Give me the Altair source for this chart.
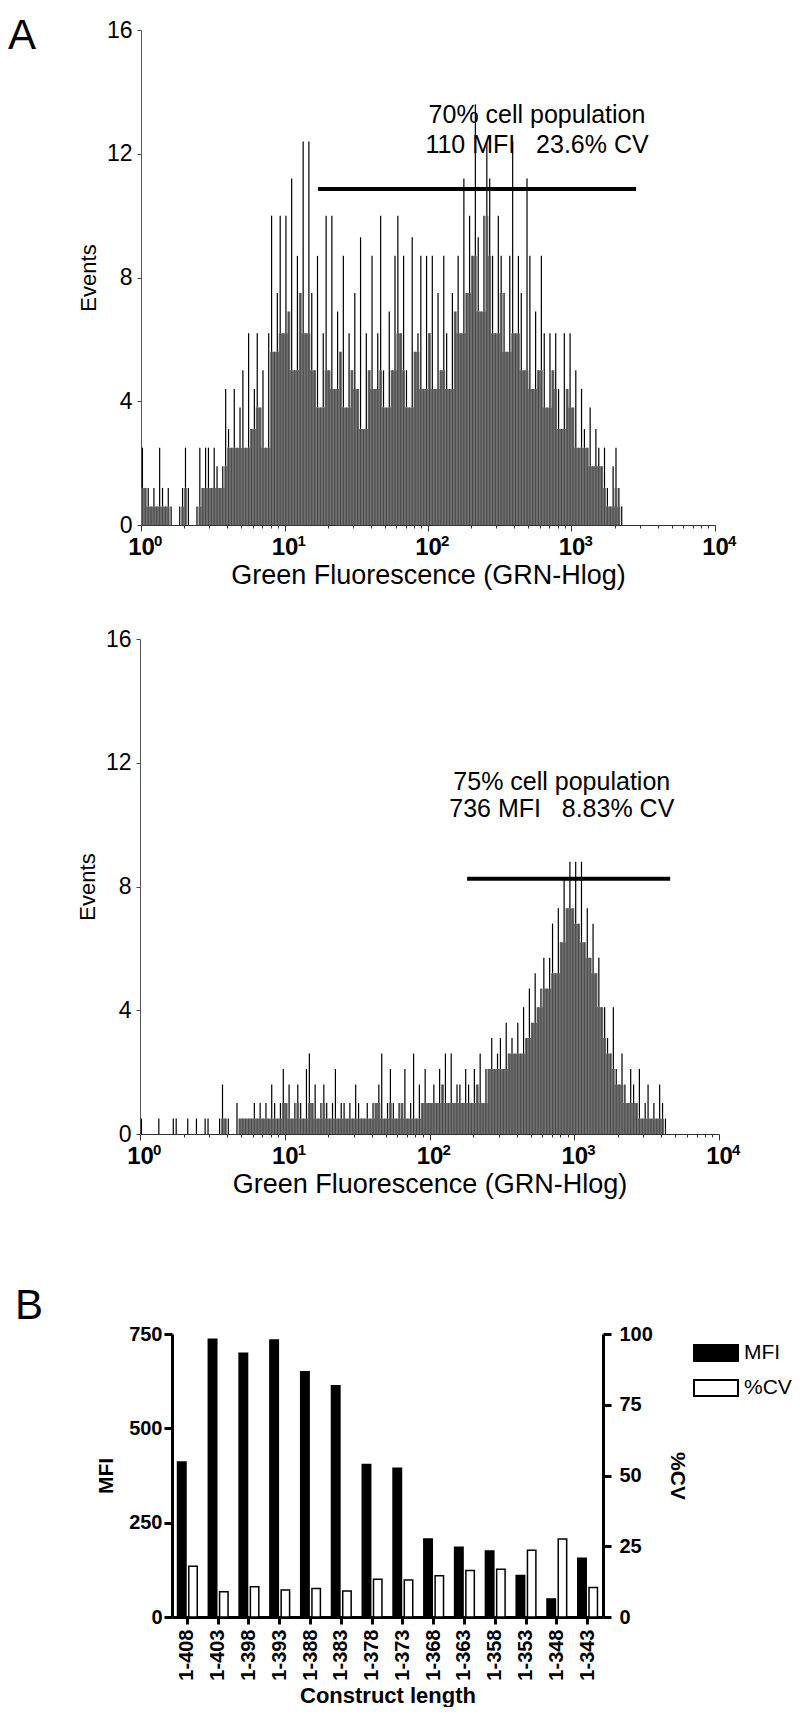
import altair as alt
import pandas as pd

FONT = "Liberation Sans"

# ---------------- data ----------------
# Panel A (top): construct 1-353, 50 channels per decade, channel i starts at 10**(i/50)
h1_counts = [
    2.5, 1.2, 1.2, 0.6, 1.2, 0.6, 2.5, 1.2, 0.6, 1.2,
    0.6, 0, 0, 0.6, 1.2, 2.5, 1.2, 0, 0, 0.6,
    2.5, 1.2, 2.5, 2.5, 1.2, 2.5, 1.9, 1.2,
    1.9, 4.4, 3.1, 2.5, 4.4, 2.5, 3.8,
    5.0, 2.5, 6.2, 3.1, 4.4, 6.2, 3.8, 5.0, 2.5, 6.2,
    10.0, 5.6, 7.5, 10.0, 6.2,
    10.0, 6.9, 11.2, 5.0, 8.7, 7.5, 12.4, 6.2, 12.4, 7.5,
    5.0, 8.7, 3.8, 6.2, 10.0, 5.0, 10.0, 4.4, 6.9, 5.6,
    8.7, 3.8, 6.2, 5.0, 7.5, 4.4, 9.3, 3.1, 6.2, 5.0,
    8.7, 4.4, 6.2, 10.0, 5.0, 3.8, 6.9, 5.0, 8.7, 10.0,
    6.2, 8.7, 5.0, 3.8, 9.3, 5.6, 6.2, 8.7, 4.4, 8.7,
    6.2, 8.7, 4.4, 7.5, 5.0, 8.7, 6.2, 4.4, 7.5, 6.9,
    8.7, 6.2, 11.2, 7.5, 10.0, 8.7, 13.6, 9.3, 6.9, 10.0,
    12.4, 11.2, 8.7, 6.2, 10.0, 8.7, 7.5, 5.6, 8.7, 12.4,
    6.2, 8.7, 7.5, 5.0, 11.2, 8.7, 4.4, 6.9, 5.0, 8.7,
    6.2, 3.8, 6.2, 5.0, 6.2, 4.4, 3.1, 6.2, 4.4, 6.2,
    3.8, 5.0, 2.5, 4.4, 3.1, 2.5, 3.8, 1.9, 3.1, 2.5,
    1.9, 2.5, 1.2, 0.6, 1.9, 2.5, 1.2, 0.6,
    0, 0, 0, 0, 0, 0, 0, 0, 0, 0, 0, 0, 0, 0, 0, 0,
    0, 0, 0, 0, 0, 0, 0, 0, 0, 0, 0, 0, 0, 0, 0, 0,
]

# Panel A (bottom): construct 1-403
h2_counts = [
    0.5, 0, 0, 0, 0, 0, 0.5, 0, 0, 0,
    0, 0.5, 0.5, 0, 0, 0, 0.5, 0, 0, 0.5,
    0, 0, 0.5, 0.5, 0, 0, 0, 0.5, 1.6, 0.5,
    0.5, 0, 0, 1.0, 0.5, 0.5, 0.5, 0.5, 0.5, 1.0,
    0.5, 1.0, 0.5, 1.0, 0.5, 1.6, 1.0, 0.5, 1.0, 2.1,
    1.0, 1.6, 0.5, 1.0, 1.6, 1.0, 0.5, 2.1, 2.6, 1.0,
    1.6, 0.5, 1.0, 1.6, 1.0, 0.5, 1.0, 2.1, 0.5, 1.0,
    1.0, 0.5, 1.0, 0.5, 1.6, 1.0, 0.5, 0.5, 1.0, 0.5,
    1.0, 1.0, 1.6, 2.6, 0.5, 1.0, 2.1, 1.0, 0.5, 1.0,
    1.0, 2.1, 0.5, 1.0, 2.6, 0.5, 1.6, 1.0, 2.1, 1.0,
    1.0, 1.6, 1.0, 2.1, 1.6, 2.6, 1.0, 2.6, 1.0, 1.6,
    1.6, 1.0, 2.1, 1.6, 1.0, 2.1, 1.6, 2.6, 1.0, 2.1,
    2.1, 3.1, 2.1, 2.6, 3.1, 2.1, 3.6, 2.6, 3.1, 2.6,
    3.6, 2.6, 4.1, 3.1, 4.7, 3.6, 5.2, 4.1, 4.7, 5.7,
    4.7, 5.7, 6.8, 5.2, 7.3, 6.2, 8.3, 7.3, 8.8, 7.3,
    8.8, 6.8, 8.8, 6.2, 7.3, 5.7, 6.8, 5.2, 5.7, 4.1,
    4.1, 3.1, 2.6, 4.1, 2.1, 1.6, 2.6, 1.6, 1.0, 2.1,
    1.6, 1.0, 2.1, 0.5, 1.0, 1.6, 0.5, 1.0, 0.5, 1.6,
    1.0, 0.5,
    0, 0, 0, 0, 0, 0, 0, 0, 0, 0, 0, 0, 0, 0, 0, 0, 0, 0,
]
CHANNELS_PER_DECADE = 50

decade_ticks = [1, 10, 100, 1000, 10000]
decade_exponents = ["0", "1", "2", "3", "4"]
log_ticks = [1, 2, 3, 4, 5, 6, 7, 8, 9,
             10, 20, 30, 40, 50, 60, 70, 80, 90,
             100, 200, 300, 400, 500, 600, 700, 800, 900,
             1000, 2000, 3000, 4000, 5000, 6000, 7000, 8000, 9000, 10000]
event_ticks = [0, 4, 8, 12, 16]

p1_notes = ["70% cell population", "110 MFI\u00a0\u00a0\u00a023.6% CV"]
p1_note_x = [575, 575]
p1_note_y = [13.25, 12.28]
p1_gate_x = [17.1, 2820]
p1_gate_y = [10.86]

p2_notes = ["75% cell population", "736 MFI\u00a0\u00a0\u00a08.83% CV"]
p2_note_x = [820, 820]
p2_note_y = [11.38, 10.5]
p2_gate_x = [182, 4600]
p2_gate_y = [8.25]

constructs = ["1-408", "1-403", "1-398", "1-393", "1-388", "1-383", "1-378",
              "1-373", "1-368", "1-363", "1-358", "1-353", "1-348", "1-343"]
mfi_values = [411, 736, 699, 734, 650, 613, 404, 394, 207, 185, 175, 110, 48, 156]
cv_values = [17.9, 8.9, 10.7, 9.5, 10.1, 9.2, 13.3, 13.1, 14.6, 16.4, 16.9, 23.6, 27.6, 10.4]
mfi_ticks = [0, 250, 500, 750]
cv_ticks = [0, 25, 50, 75, 100]
series_names = ["MFI", "%CV"]

IS_MAJOR = ("datum.value == 1 || datum.value == 10 || datum.value == 100 || "
            "datum.value == 1000 || datum.value == 10000")


def extent_rule(x, y1, y2):
    return alt.Chart(pd.DataFrame({"d": [0]})).mark_rule(opacity=0, color="white").encode(
        x=alt.value(x), x2=alt.value(x), y=alt.value(y1), y2=alt.value(y2))


def histogram_panel(counts, x_range, height, notes, note_x, note_y, gate_x, gate_y,
                    letter, letter_pos, ext):
    n = len(counts)
    edges = [10 ** (i / CHANNELS_PER_DECADE) for i in range(n)] + [10000.0]
    centers = [10 ** ((i + 0.5) / CHANNELS_PER_DECADE) for i in range(n)] + [10000.0]
    df = pd.DataFrame({"fl": edges, "fc": centers, "ev": list(counts) + [0.0]})
    xs = alt.Scale(type="log", domain=[1, 10000], nice=False, range=x_range)
    ys = alt.Scale(domain=[0, 16], nice=False)
    x_axis = alt.Axis(
        values=log_ticks, labelExpr=f"({IS_MAJOR}) ? '10' : ''",
        labelFont=FONT, labelFontSize=24, labelFontWeight="bold", labelColor="black",
        labelPadding=4, labelFlush=False, labelOverlap=False,
        tickSize=alt.condition(IS_MAJOR, alt.value(6), alt.value(3)),
        tickColor="#333333", domainColor="#333333", grid=False,
        title="Green Fluorescence (GRN-Hlog)", titleFont=FONT, titleFontSize=27,
        titleFontWeight="normal", titleColor="black", titlePadding=3)
    y_axis = alt.Axis(
        values=event_ticks, labelFont=FONT, labelFontSize=23, labelColor="black",
        labelPadding=5, tickSize=4, tickColor="#444444", domainColor="#555555",
        grid=False, offset=-x_range[0], title="Events", titleFont=FONT, titleFontSize=22,
        titleFontWeight="normal", titleColor="black", titlePadding=6)

    base = alt.Chart(df).transform_window(
        body="min(ev)", frame=[-1, 1], sort=[alt.SortField("fl")])
    # grey body: the level every neighbouring channel reaches
    body = base.mark_area(interpolate="step-after", color="#707070").encode(
        x=alt.X("fl:Q", scale=xs, axis=x_axis),
        y=alt.Y("body:Q", scale=ys, axis=y_axis))
    # faint channel edges inside the grey body
    inner = base.mark_rule(color="#2e2e2e", strokeWidth=0.6).encode(
        x="fc:Q", y="body:Q", y2=alt.datum(0))
    # black channel tops above the body
    spikes = base.mark_rule(color="black", strokeWidth=1.2).encode(
        x="fc:Q", y="ev:Q", y2="body:Q")

    gate = alt.Chart(pd.DataFrame({"fl": [gate_x[0]], "fl2": [gate_x[1]], "ev": gate_y})).mark_rule(
        color="black", strokeWidth=4).encode(x="fl:Q", x2="fl2:Q", y="ev:Q")
    texts = alt.Chart(pd.DataFrame({"fl": note_x, "ev": note_y, "t": notes})).mark_text(
        font=FONT, fontSize=25, color="black").encode(x="fl:Q", y="ev:Q", text="t:N")
    exps = alt.Chart(pd.DataFrame({"fl": decade_ticks, "e": decade_exponents})).mark_text(
        font=FONT, fontSize=15, fontWeight="bold", color="black", align="left",
        baseline="top", dx=13).encode(x="fl:Q", y=alt.value(height + 9), text="e:N")
    layers = [body, inner, spikes, gate, texts, exps]
    if letter:
        layers.append(alt.Chart(pd.DataFrame({"t": [letter]})).mark_text(
            font=FONT, fontSize=42, color="black", align="left", baseline="alphabetic").encode(
            x=alt.value(letter_pos[0]), y=alt.value(letter_pos[1]), text="t:N"))
    layers.append(extent_rule(ext[0], ext[1], height + ext[2]))
    return alt.layer(*layers).properties(width=x_range[1], height=height)


# common column origin is x=172 on the page (panel B's plot area);
# panel A plot areas start 31-32 px further left.
p1 = histogram_panel(h1_counts, [-31, 543], 495, p1_notes, p1_note_x, p1_note_y,
                     p1_gate_x, p1_gate_y, "A", (-164, 19), (-164, -22, 75))
p2 = histogram_panel(h2_counts, [-32, 547], 495, p2_notes, p2_note_x, p2_note_y,
                     p2_gate_x, p2_gate_y, None, None, (-164, -39, 102))

# ---------------- panel B ----------------
BW, BH = 431, 283
dfm = pd.DataFrame({"construct": constructs, "series": "MFI", "value": mfi_values})
dfc = pd.DataFrame({"construct": constructs, "series": "%CV", "value": cv_values})

x_enc = alt.X("construct:N", sort=constructs,
              scale=alt.Scale(paddingInner=0.36, paddingOuter=0.18),
              axis=alt.Axis(labelAngle=-90, labelFont=FONT, labelFontSize=20,
                            labelFontWeight="bold", labelColor="black", labelPadding=5,
                            tickSize=7, tickWidth=3, tickColor="black",
                            domainWidth=3, domainColor="black",
                            title="Construct length", titleFont=FONT, titleFontSize=22,
                            titleFontWeight="bold", titleColor="black", titlePadding=5))
xoff = alt.XOffset("series:N", scale=alt.Scale(domain=series_names, paddingInner=0.25))
fill = alt.Fill("series:N", scale=alt.Scale(domain=series_names, range=["black", "white"]),
                legend=alt.Legend(orient="none", legendX=521, legendY=-4, title=None,
                                  symbolType="M-1,-0.36H1V0.36H-1Z", symbolSize=1936,
                                  symbolStrokeColor="black", symbolStrokeWidth=2,
                                  labelFont=FONT, labelFontSize=21, labelColor="black",
                                  labelOffset=5, rowPadding=-7.5, padding=0))

mfi_bars = alt.Chart(dfm).mark_bar(stroke="black", strokeWidth=1.5).encode(
    x=x_enc, xOffset=xoff, fill=fill,
    y=alt.Y("value:Q", scale=alt.Scale(domain=[0, 750], nice=False),
            axis=alt.Axis(values=mfi_ticks, labelFont=FONT, labelFontSize=20,
                          labelFontWeight="bold", labelColor="black", labelPadding=2,
                          tickSize=8, tickWidth=3, tickColor="black", domainWidth=3,
                          domainColor="black", grid=False, title="MFI", titleFont=FONT,
                          titleFontSize=21, titleFontWeight="bold", titleColor="black",
                          titlePadding=12)))
cv_bars = alt.Chart(dfc).mark_bar(stroke="black", strokeWidth=1.5).encode(
    x=x_enc, xOffset=xoff, fill=fill,
    y=alt.Y("value:Q", scale=alt.Scale(domain=[0, 100], nice=False),
            axis=alt.Axis(orient="right", values=cv_ticks, labelFont=FONT, labelFontSize=20,
                          labelFontWeight="bold", labelColor="black", labelPadding=8,
                          tickSize=8, tickWidth=3, tickColor="black", domainWidth=3,
                          domainColor="black", grid=False, title="%CV", titleFont=FONT,
                          titleFontSize=21, titleFontWeight="bold", titleColor="black",
                          titlePadding=14)))
letter_b = alt.Chart(pd.DataFrame({"t": ["B"]})).mark_text(
    font=FONT, fontSize=42, color="black", align="left", baseline="alphabetic").encode(
    x=alt.value(-157), y=alt.value(-15), text="t:N")

pB = alt.layer(mfi_bars, cv_bars, letter_b, extent_rule(-164, -98, BH)).resolve_scale(
    y="independent").properties(width=BW, height=BH)

chart = alt.concat(p1, p2, pB, columns=1, spacing=0).resolve_legend(
    fill="independent").properties(padding=0).configure(font=FONT).configure_view(
    stroke="transparent", strokeWidth=0)

chart.save("out.html", embed_options={"renderer": "svg", "actions": False})
